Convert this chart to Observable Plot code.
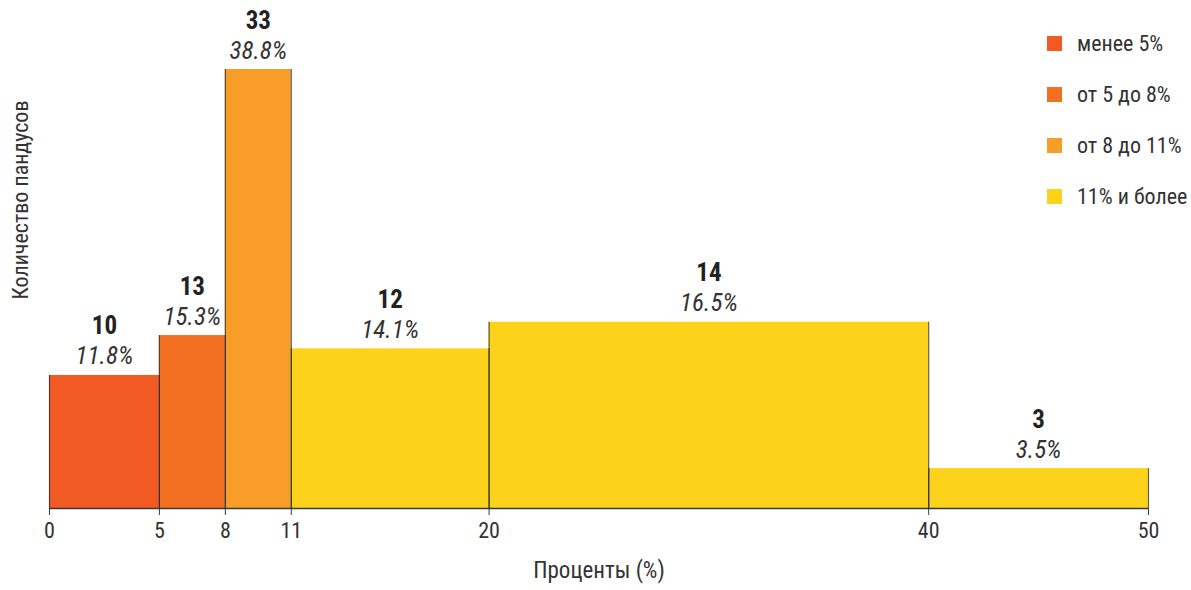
<!DOCTYPE html>
<html>
<head>
<meta charset="utf-8">
<script src="https://cdn.jsdelivr.net/npm/d3@7"></script>
<script src="https://cdn.jsdelivr.net/npm/@observablehq/plot@0.6"></script>
<style>
  html, body { margin: 0; padding: 0; background: #fff; }
  #wrap { position: relative; width: 1191px; height: 590px; font-family: "Liberation Sans Narrow", "Arial Narrow", "Roboto Condensed", sans-serif; }
  #legend { position: absolute; left: 1047px; top: 18px; font-size: 22px; color: #333; }
  #legend .item { display: flex; align-items: center; height: 51px; margin: 0; }
  #legend .sw { width: 15px; height: 15px; margin-right: 15px; }
  svg text { font-family: "Liberation Sans Narrow", "Arial Narrow", "Roboto Condensed", sans-serif; }
</style>
</head>
<body>
<div id="wrap"></div>
<script>
const binStart = [0, 5, 8, 11, 20, 40];
const binEnd = [5, 8, 11, 20, 40, 50];
const counts = [10, 13, 33, 12, 14, 3];
const shares = [11.8, 15.3, 38.8, 14.1, 16.5, 3.5];
const groups = ["менее 5%", "от 5 до 8%", "от 8 до 11%", "11% и более", "11% и более", "11% и более"];
const legendLabels = ["менее 5%", "от 5 до 8%", "от 8 до 11%", "11% и более"];
const legendColors = ["#F15A22", "#F37022", "#F89D28", "#FCD31A"];
const xTicks = [0, 5, 8, 11, 20, 40, 50];

const bars = counts.map((c, i) => ({
  x1: binStart[i], x2: binEnd[i], count: c, share: shares[i], group: groups[i],
  mid: (binStart[i] + binEnd[i]) / 2
}));
const edges = bars.flatMap(b => [{x: b.x1, y: b.count}, {x: b.x2, y: b.count}]);

const chart = Plot.plot({
  width: 1191,
  height: 590,
  marginLeft: 49,
  marginRight: 43,
  marginTop: 69,
  marginBottom: 82,
  style: {fontSize: "20px", color: "#333", background: "#fff"},
  x: {domain: [0, 50], label: null},
  y: {domain: [0, 33], axis: null},
  color: {domain: legendLabels, range: legendColors},
  marks: [
    Plot.rectY(bars, {x1: "x1", x2: "x2", y: "count", fill: "group"}),
    Plot.ruleX(edges, {x: "x", y1: 0, y2: "y", stroke: "#2a2a2a", strokeOpacity: 0.75, strokeWidth: 1.2}),
    Plot.ruleY([0], {stroke: "#3a3a3a", strokeWidth: 1.5}),
    Plot.axisX({ticks: xTicks, tickSize: 7, tickPadding: 7, tickFormat: d => String(d), fontSize: 22, stroke: "#3a3a3a", label: null}),
    Plot.text(bars, {x: "mid", y: "count", text: d => String(d.count), dy: -49, fontWeight: "bold", fontSize: 25, fill: "#222"}),
    Plot.text(bars, {x: "mid", y: "count", text: d => d.share.toFixed(1) + "%", dy: -19, fontStyle: "italic", fontSize: 25, fill: "#333"}),
    Plot.text(["Проценты (%)"], {frameAnchor: "bottom", dy: 69, text: d => d, fontSize: 23, fill: "#333", x: () => 25}),
    Plot.text(["Количество пандусов"], {frameAnchor: "left", textAnchor: "middle", dx: -29, dy: -89, rotate: -90, text: d => d, fontSize: 22, fill: "#333"})
  ]
});
document.getElementById("wrap").appendChild(chart);

const legend = document.createElement("div");
legend.id = "legend";
legendLabels.forEach((l, i) => {
  const item = document.createElement("div");
  item.className = "item";
  const sw = document.createElement("div");
  sw.className = "sw";
  sw.style.background = legendColors[i];
  const t = document.createElement("span");
  t.textContent = l;
  item.appendChild(sw);
  item.appendChild(t);
  legend.appendChild(item);
});
document.getElementById("wrap").appendChild(legend);
</script>
</body>
</html>
